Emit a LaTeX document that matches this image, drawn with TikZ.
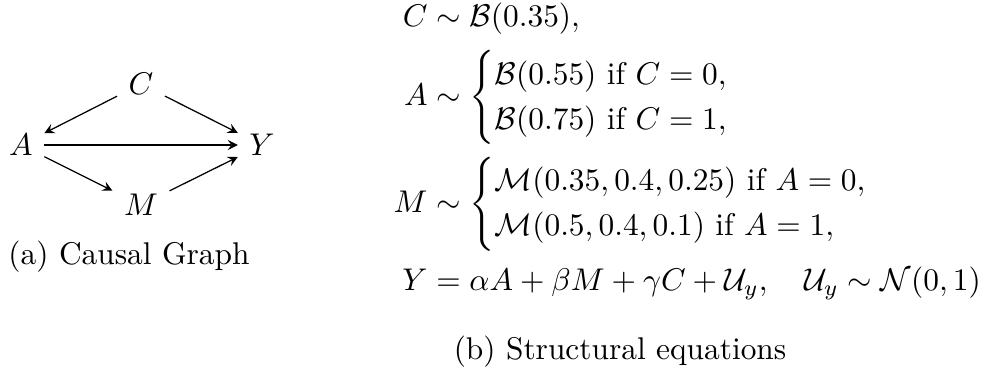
\documentclass[tikz,border=0pt]{standalone}
\usepackage{amsmath,amssymb}
\usepackage{tikz}
\usetikzlibrary{arrows,positioning}

\begin{document}
\begin{tikzpicture}[scale=1.0,
    var/.style={inner sep=3.5pt},
    dep/.style={-stealth,thin}]
    \useasboundingbox (0,0) rectangle (11.054,4.155);
    % causal graph
    \node[var] (C) at (1.579,3.214) {$C$};
    \node[var] (A) at (0.235,2.531) {$A$};
    \node[var] (Y) at (2.934,2.531) {$Y$};
    \node[var] (M) at (1.579,1.859) {$M$};
    \draw[dep] (C) -- (A);
    \draw[dep] (C) -- (Y);
    \draw[dep] (A) -- (Y);
    \draw[dep] (A) -- (M);
    \draw[dep] (M) -- (Y);
    \node (capa) at (1.445,1.277) {(a) Causal Graph};
    % structural equations
    \node[anchor=west,inner sep=0pt] (eqs) at (4.402,2.464) {$\begin{aligned}
        C &\sim \mathcal{B}(0.35),\\
        A &\sim \begin{cases}
            \mathcal{B}(0.55) \text{ if } C=0,\\
            \mathcal{B}(0.75) \text{ if } C=1,
        \end{cases}\\
        M &\sim \begin{cases}
            \mathcal{M}(0.35,0.4,0.25) \text{ if } A=0,\\
            \mathcal{M}(0.5,0.4,0.1) \text{ if } A=1,
        \end{cases}\\
        Y &= \alpha A+\beta M+\gamma C+\mathcal{U}_y,\quad \mathcal{U}_y\sim\mathcal{N}(0,1)
    \end{aligned}$};
    \node (capb) at (6.944,0.213) {(b) Structural equations};
\end{tikzpicture}
\end{document}
